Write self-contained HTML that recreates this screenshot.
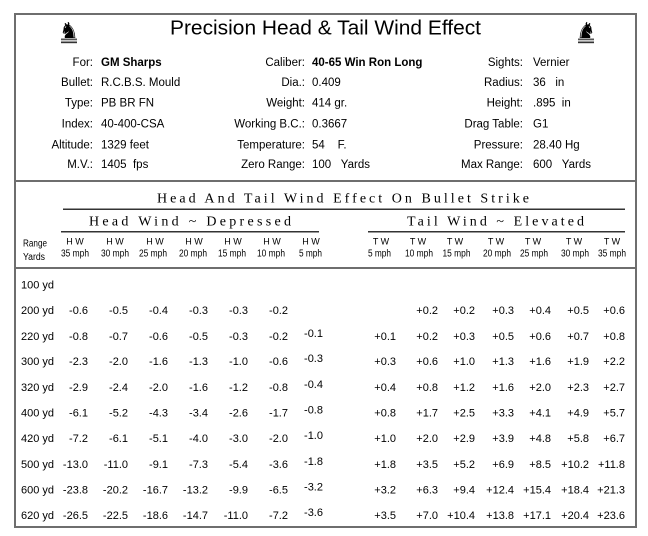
<!DOCTYPE html>
<html><head><meta charset="utf-8"><style>
html,body{margin:0;padding:0;background:#fff;}
svg{display:block;}
text{font-family:"Liberation Sans",Arial,sans-serif;fill:#000;}
.s{font-family:"Liberation Serif","Times New Roman",serif;font-size:14px;}
.i{font-size:11.5px;}
.d{font-size:11px;}
.b{font-weight:bold;}
.h{font-size:9px;}
.m{font-size:10px;}
</style></head><body>
<svg width="648" height="536" viewBox="0 0 648 536" xmlns="http://www.w3.org/2000/svg">
<rect x="0" y="0" width="648" height="536" fill="#fff"/>
<rect x="15" y="14" width="621" height="513" fill="none" stroke="#6e6e6e" stroke-width="2"/>
<line x1="15" y1="181" x2="636" y2="181" stroke="#6e6e6e" stroke-width="2"/>
<line x1="15" y1="268" x2="636" y2="268" stroke="#6e6e6e" stroke-width="2"/>

<text x="69" y="38" text-anchor="middle" style="font-family:'DejaVu Sans',sans-serif;font-size:22px">♞</text>
<rect x="61" y="38.5" width="16" height="1.5" fill="#555"/>
<rect x="61" y="40.5" width="16" height="1.5" fill="#999"/>
<rect x="61" y="42" width="16" height="1.2" fill="#333"/>
<text x="0" y="38" text-anchor="middle" transform="translate(586,0) scale(-1,1)" style="font-family:'DejaVu Sans',sans-serif;font-size:22px">♞</text>
<rect x="578" y="38.5" width="16" height="1.5" fill="#555"/>
<rect x="578" y="40.5" width="16" height="1.5" fill="#999"/>
<rect x="578" y="42" width="16" height="1.2" fill="#333"/>

<text x="325.5" y="34.5" text-anchor="middle" style="font-size:20.7px" textLength="311" lengthAdjust="spacingAndGlyphs">Precision Head &amp; Tail Wind Effect</text>

<g class="i">
<text x="93" y="66" text-anchor="end" class="i">For:</text>
<text x="93" y="86" text-anchor="end" class="i">Bullet:</text>
<text x="93" y="106.5" text-anchor="end" class="i">Type:</text>
<text x="93" y="127.5" text-anchor="end" class="i">Index:</text>
<text x="93" y="148.5" text-anchor="end" class="i">Altitude:</text>
<text x="93" y="168" text-anchor="end" class="i">M.V.:</text>
<text x="101" y="66" class="i b">GM Sharps</text>
<text x="101" y="86" class="i">R.C.B.S. Mould</text>
<text x="101" y="106.5" class="i">PB BR FN</text>
<text x="101" y="127.5" class="i">40-400-CSA</text>
<text x="101" y="148.5" class="i">1329&#160;feet</text>
<text x="101" y="168" class="i">1405&#160;&#160;fps</text>

<text x="305" y="66" text-anchor="end" class="i">Caliber:</text>
<text x="305" y="86" text-anchor="end" class="i">Dia.:</text>
<text x="305" y="106.5" text-anchor="end" class="i">Weight:</text>
<text x="305" y="127.5" text-anchor="end" class="i">Working B.C.:</text>
<text x="305" y="148.5" text-anchor="end" class="i">Temperature:</text>
<text x="305" y="168" text-anchor="end" class="i">Zero Range:</text>
<text x="312" y="66" class="i b">40-65 Win Ron Long</text>
<text x="312" y="86" class="i">0.409</text>
<text x="312" y="106.5" class="i">414&#160;gr.</text>
<text x="312" y="127.5" class="i">0.3667</text>
<text x="312" y="148.5" class="i">54&#160;&#160;&#160;&#160;F.</text>
<text x="312" y="168" class="i">100&#160;&#160;&#160;Yards</text>

<text x="523" y="66" text-anchor="end" class="i">Sights:</text>
<text x="523" y="86" text-anchor="end" class="i">Radius:</text>
<text x="523" y="106.5" text-anchor="end" class="i">Height:</text>
<text x="523" y="127.5" text-anchor="end" class="i">Drag Table:</text>
<text x="523" y="148.5" text-anchor="end" class="i">Pressure:</text>
<text x="523" y="168" text-anchor="end" class="i">Max Range:</text>
<text x="533" y="66" class="i">Vernier</text>
<text x="533" y="86" class="i">36&#160;&#160;&#160;in</text>
<text x="533" y="106.5" class="i">.895&#160;&#160;in</text>
<text x="533" y="127.5" class="i">G1</text>
<text x="533" y="148.5" class="i">28.40 Hg</text>
<text x="533" y="168" class="i">600&#160;&#160;&#160;Yards</text>
</g>

<text x="157" y="202.7" class="s" textLength="372" lengthAdjust="spacing">Head And Tail Wind Effect On Bullet Strike</text>
<line x1="63" y1="209.3" x2="625" y2="209.3" stroke="#333" stroke-width="1.5"/>
<text x="89" y="225.7" class="s" textLength="202" lengthAdjust="spacing">Head Wind ~ Depressed</text>
<text x="407" y="225.7" class="s" textLength="177" lengthAdjust="spacing">Tail Wind ~ Elevated</text>
<line x1="61" y1="231.8" x2="319" y2="231.8" stroke="#333" stroke-width="1.5"/>
<line x1="368" y1="231.8" x2="625" y2="231.8" stroke="#333" stroke-width="1.5"/>

<text x="23" y="246.5" class="m" textLength="24" lengthAdjust="spacingAndGlyphs">Range</text>
<text x="23" y="260" class="m" textLength="22" lengthAdjust="spacingAndGlyphs">Yards</text>

<g class="h" text-anchor="middle">
<text x="75" y="244.5" class="h">H W</text>
<text x="115" y="244.5" class="h">H W</text>
<text x="155" y="244.5" class="h">H W</text>
<text x="194" y="244.5" class="h">H W</text>
<text x="233" y="244.5" class="h">H W</text>
<text x="272" y="244.5" class="h">H W</text>
<text x="311" y="244.5" class="h">H W</text>
<text x="381" y="244.5" class="h">T W</text>
<text x="418" y="244.5" class="h">T W</text>
<text x="455" y="244.5" class="h">T W</text>
<text x="496" y="244.5" class="h">T W</text>
<text x="533" y="244.5" class="h">T W</text>
<text x="574" y="244.5" class="h">T W</text>
<text x="612" y="244.5" class="h">T W</text>
</g>
<g text-anchor="middle">
<text x="75" y="256.5" class="m" textLength="28" lengthAdjust="spacingAndGlyphs">35 mph</text>
<text x="115" y="256.5" class="m" textLength="28" lengthAdjust="spacingAndGlyphs">30 mph</text>
<text x="153" y="256.5" class="m" textLength="28" lengthAdjust="spacingAndGlyphs">25 mph</text>
<text x="193" y="256.5" class="m" textLength="28" lengthAdjust="spacingAndGlyphs">20 mph</text>
<text x="232" y="256.5" class="m" textLength="28" lengthAdjust="spacingAndGlyphs">15 mph</text>
<text x="271" y="256.5" class="m" textLength="28" lengthAdjust="spacingAndGlyphs">10 mph</text>
<text x="310.5" y="256.5" class="m" textLength="23" lengthAdjust="spacingAndGlyphs">5 mph</text>
<text x="379.5" y="256.5" class="m" textLength="23" lengthAdjust="spacingAndGlyphs">5 mph</text>
<text x="419" y="256.5" class="m" textLength="28" lengthAdjust="spacingAndGlyphs">10 mph</text>
<text x="456.5" y="256.5" class="m" textLength="28" lengthAdjust="spacingAndGlyphs">15 mph</text>
<text x="497" y="256.5" class="m" textLength="28" lengthAdjust="spacingAndGlyphs">20 mph</text>
<text x="534" y="256.5" class="m" textLength="28" lengthAdjust="spacingAndGlyphs">25 mph</text>
<text x="575" y="256.5" class="m" textLength="28" lengthAdjust="spacingAndGlyphs">30 mph</text>
<text x="612" y="256.5" class="m" textLength="28" lengthAdjust="spacingAndGlyphs">35 mph</text>
</g>

<g class="d">
<text x="21" y="288.5" class="d">100 yd</text>
<text x="21" y="314" class="d">200 yd</text>
<text x="21" y="340" class="d">220 yd</text>
<text x="21" y="365" class="d">300 yd</text>
<text x="21" y="391" class="d">320 yd</text>
<text x="21" y="416.5" class="d">400 yd</text>
<text x="21" y="442" class="d">420 yd</text>
<text x="21" y="468" class="d">500 yd</text>
<text x="21" y="493.5" class="d">600 yd</text>
<text x="21" y="519" class="d">620 yd</text>
</g>

<g class="d" text-anchor="end">
<text x="88" y="314" class="d">-0.6</text><text x="128" y="314" class="d">-0.5</text><text x="168" y="314" class="d">-0.4</text><text x="208" y="314" class="d">-0.3</text><text x="248" y="314" class="d">-0.3</text><text x="288" y="314" class="d">-0.2</text>
<text x="438" y="314" class="d">+0.2</text><text x="475" y="314" class="d">+0.2</text><text x="514" y="314" class="d">+0.3</text><text x="551" y="314" class="d">+0.4</text><text x="589" y="314" class="d">+0.5</text><text x="625" y="314" class="d">+0.6</text>

<text x="88" y="340" class="d">-0.8</text><text x="128" y="340" class="d">-0.7</text><text x="168" y="340" class="d">-0.6</text><text x="208" y="340" class="d">-0.5</text><text x="248" y="340" class="d">-0.3</text><text x="288" y="340" class="d">-0.2</text><text x="323" y="337" class="d">-0.1</text>
<text x="396" y="340" class="d">+0.1</text><text x="438" y="340" class="d">+0.2</text><text x="475" y="340" class="d">+0.3</text><text x="514" y="340" class="d">+0.5</text><text x="551" y="340" class="d">+0.6</text><text x="589" y="340" class="d">+0.7</text><text x="625" y="340" class="d">+0.8</text>

<text x="88" y="365" class="d">-2.3</text><text x="128" y="365" class="d">-2.0</text><text x="168" y="365" class="d">-1.6</text><text x="208" y="365" class="d">-1.3</text><text x="248" y="365" class="d">-1.0</text><text x="288" y="365" class="d">-0.6</text><text x="323" y="362" class="d">-0.3</text>
<text x="396" y="365" class="d">+0.3</text><text x="438" y="365" class="d">+0.6</text><text x="475" y="365" class="d">+1.0</text><text x="514" y="365" class="d">+1.3</text><text x="551" y="365" class="d">+1.6</text><text x="589" y="365" class="d">+1.9</text><text x="625" y="365" class="d">+2.2</text>

<text x="88" y="391" class="d">-2.9</text><text x="128" y="391" class="d">-2.4</text><text x="168" y="391" class="d">-2.0</text><text x="208" y="391" class="d">-1.6</text><text x="248" y="391" class="d">-1.2</text><text x="288" y="391" class="d">-0.8</text><text x="323" y="388" class="d">-0.4</text>
<text x="396" y="391" class="d">+0.4</text><text x="438" y="391" class="d">+0.8</text><text x="475" y="391" class="d">+1.2</text><text x="514" y="391" class="d">+1.6</text><text x="551" y="391" class="d">+2.0</text><text x="589" y="391" class="d">+2.3</text><text x="625" y="391" class="d">+2.7</text>

<text x="88" y="416.5" class="d">-6.1</text><text x="128" y="416.5" class="d">-5.2</text><text x="168" y="416.5" class="d">-4.3</text><text x="208" y="416.5" class="d">-3.4</text><text x="248" y="416.5" class="d">-2.6</text><text x="288" y="416.5" class="d">-1.7</text><text x="323" y="413.5" class="d">-0.8</text>
<text x="396" y="416.5" class="d">+0.8</text><text x="438" y="416.5" class="d">+1.7</text><text x="475" y="416.5" class="d">+2.5</text><text x="514" y="416.5" class="d">+3.3</text><text x="551" y="416.5" class="d">+4.1</text><text x="589" y="416.5" class="d">+4.9</text><text x="625" y="416.5" class="d">+5.7</text>

<text x="88" y="442" class="d">-7.2</text><text x="128" y="442" class="d">-6.1</text><text x="168" y="442" class="d">-5.1</text><text x="208" y="442" class="d">-4.0</text><text x="248" y="442" class="d">-3.0</text><text x="288" y="442" class="d">-2.0</text><text x="323" y="439" class="d">-1.0</text>
<text x="396" y="442" class="d">+1.0</text><text x="438" y="442" class="d">+2.0</text><text x="475" y="442" class="d">+2.9</text><text x="514" y="442" class="d">+3.9</text><text x="551" y="442" class="d">+4.8</text><text x="589" y="442" class="d">+5.8</text><text x="625" y="442" class="d">+6.7</text>

<text x="88" y="468" class="d">-13.0</text><text x="128" y="468" class="d">-11.0</text><text x="168" y="468" class="d">-9.1</text><text x="208" y="468" class="d">-7.3</text><text x="248" y="468" class="d">-5.4</text><text x="288" y="468" class="d">-3.6</text><text x="323" y="465" class="d">-1.8</text>
<text x="396" y="468" class="d">+1.8</text><text x="438" y="468" class="d">+3.5</text><text x="475" y="468" class="d">+5.2</text><text x="514" y="468" class="d">+6.9</text><text x="551" y="468" class="d">+8.5</text><text x="589" y="468" class="d">+10.2</text><text x="625" y="468" class="d">+11.8</text>

<text x="88" y="493.5" class="d">-23.8</text><text x="128" y="493.5" class="d">-20.2</text><text x="168" y="493.5" class="d">-16.7</text><text x="208" y="493.5" class="d">-13.2</text><text x="248" y="493.5" class="d">-9.9</text><text x="288" y="493.5" class="d">-6.5</text><text x="323" y="490.5" class="d">-3.2</text>
<text x="396" y="493.5" class="d">+3.2</text><text x="438" y="493.5" class="d">+6.3</text><text x="475" y="493.5" class="d">+9.4</text><text x="514" y="493.5" class="d">+12.4</text><text x="551" y="493.5" class="d">+15.4</text><text x="589" y="493.5" class="d">+18.4</text><text x="625" y="493.5" class="d">+21.3</text>

<text x="88" y="519" class="d">-26.5</text><text x="128" y="519" class="d">-22.5</text><text x="168" y="519" class="d">-18.6</text><text x="208" y="519" class="d">-14.7</text><text x="248" y="519" class="d">-11.0</text><text x="288" y="519" class="d">-7.2</text><text x="323" y="516" class="d">-3.6</text>
<text x="396" y="519" class="d">+3.5</text><text x="438" y="519" class="d">+7.0</text><text x="475" y="519" class="d">+10.4</text><text x="514" y="519" class="d">+13.8</text><text x="551" y="519" class="d">+17.1</text><text x="589" y="519" class="d">+20.4</text><text x="625" y="519" class="d">+23.6</text>
</g>
</svg>
</body></html>
